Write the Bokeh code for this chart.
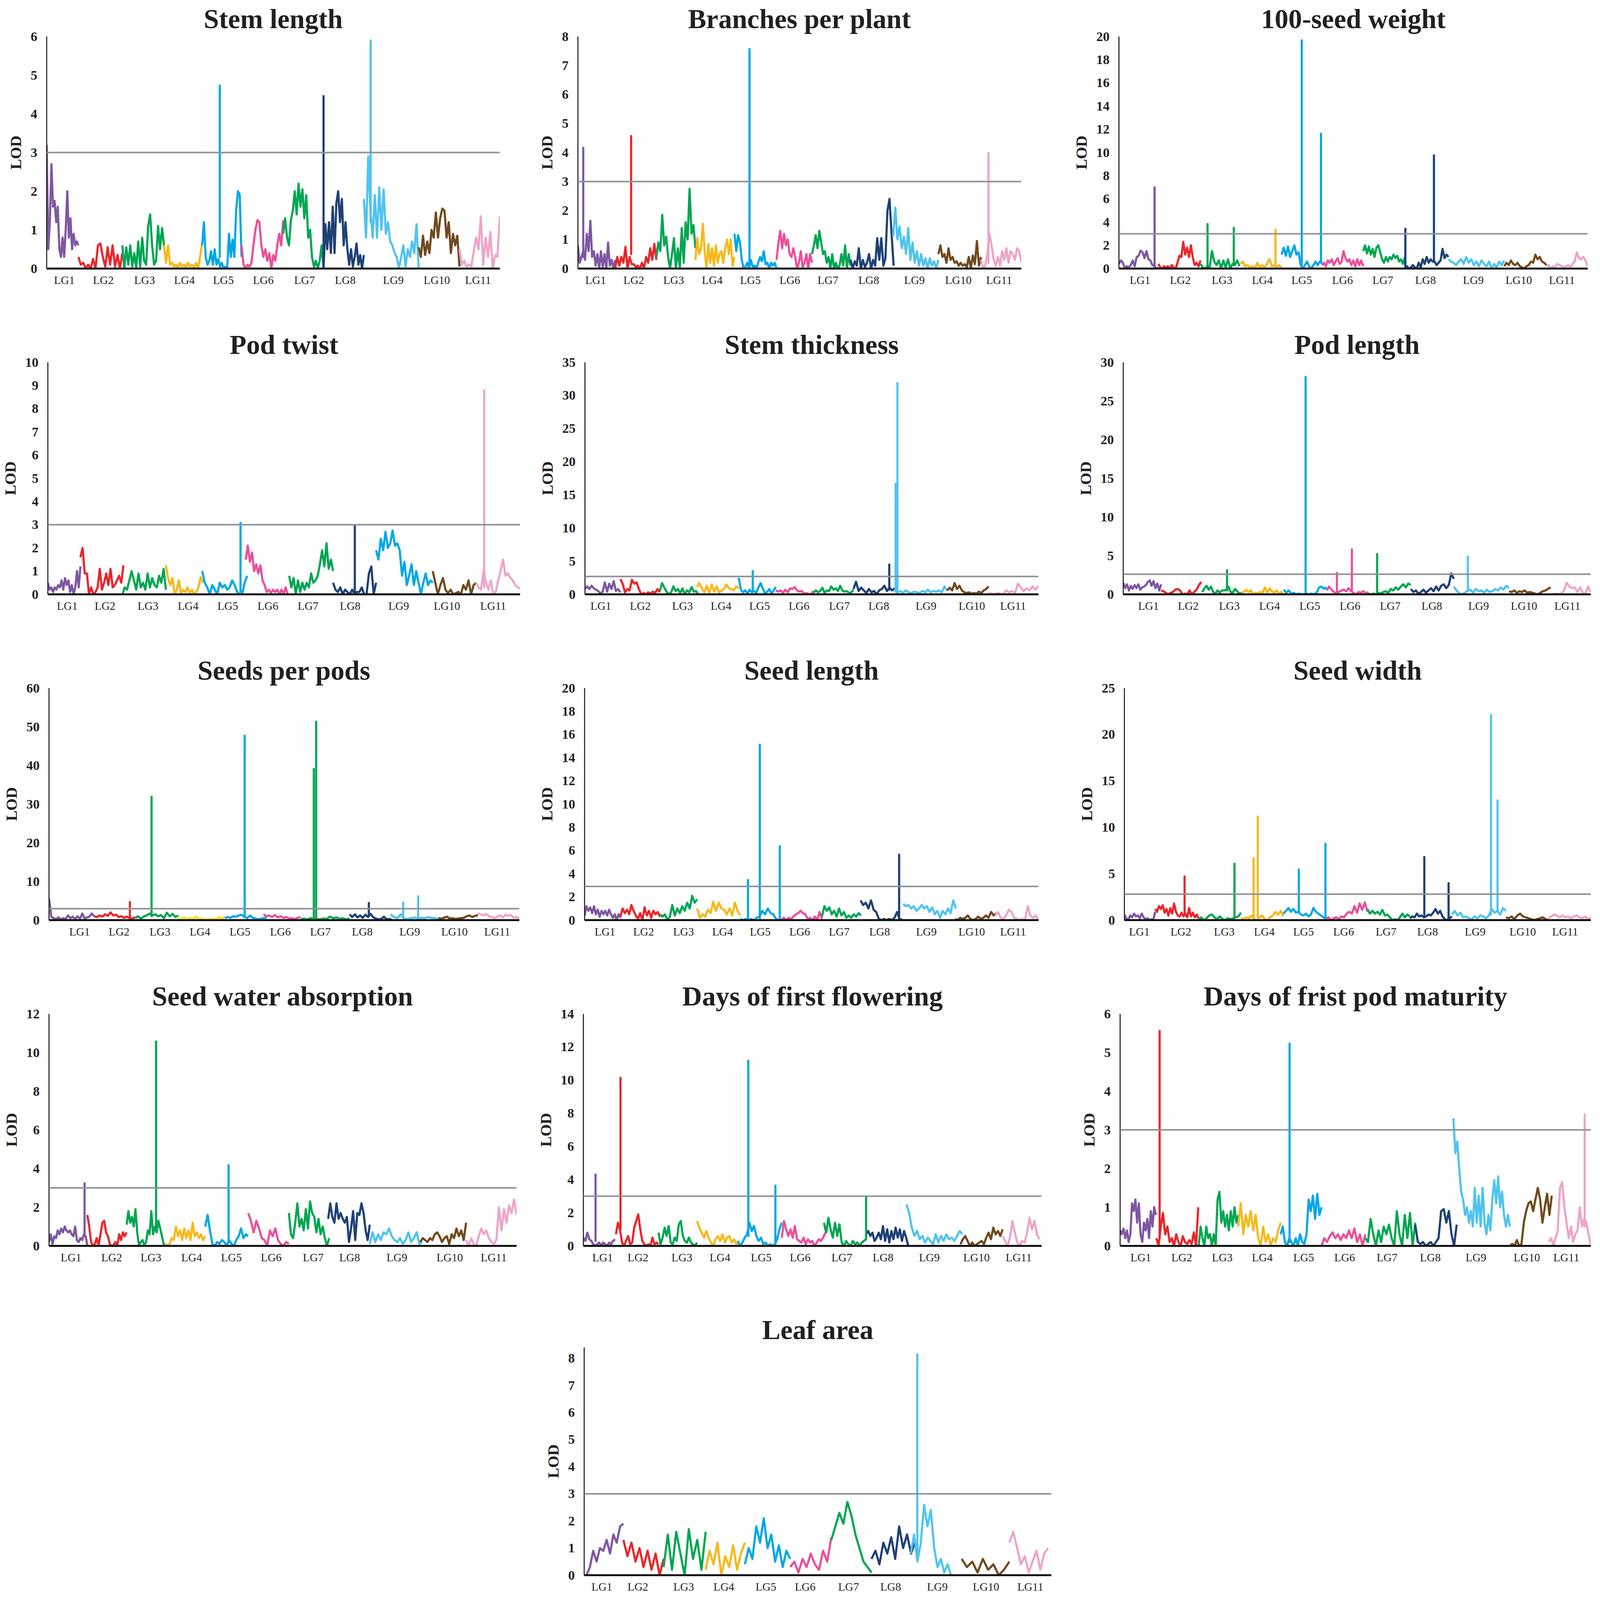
import numpy as np
from bokeh.plotting import figure
from bokeh.layouts import row, column
from bokeh.models import Span, FixedTicker, Range1d, Spacer
from bokeh.embed import file_html
from bokeh.resources import INLINE

LG_NAMES = ["LG1", "LG2", "LG3", "LG4", "LG5", "LG6", "LG7", "LG8", "LG9", "LG10", "LG11"]
LG_COLORS = ["#7E57A2", "#E9262B", "#00A651", "#F6B91A", "#00A7E7", "#EA4F9B",
             "#00A651", "#1E4176", "#4FC4EE", "#6F4A1E", "#EDA5C9"]

# ---------------- Stem length ----------------
sl_spans = [(0, 7.0), (7.0, 16.7), (16.7, 25.9), (25.9, 34.3), (34.3, 43.0), (43.0, 52.2),
            (52.2, 61.1), (61.1, 70.0), (70.0, 82.1), (82.1, 91.1), (91.1, 100)]
sl_vals = [
    [3.2, 0.5, 1.2, 2.7, 1.6, 1.75, 1.2, 1.6, 0.5, 0.3, 0.8, 0.3, 1.0, 2.0, 0.8, 1.3, 0.5, 0.9, 0.6, 0.7, 0.6],
    [0.3, 0.1, 0.15, 0.0, 0.1, 0.0, 0.25, 0.0, 0.6, 0.65, 0.3, 0.05, 0.55, 0.1, 0.6, 0.05, 0.35, 0.0, 0.4],
    [0.6, 0.0, 0.55, 0.1, 0.6, 0.05, 0.4, 0.0, 0.7, 0.05, 0.8, 0.2, 0.1, 1.1, 1.4, 0.6, 0.1, 0.2, 1.1, 0.5, 1.05, 0.6],
    [0.6, 0.15, 0.6, 0.1, 0.15, 0.05, 0.1, 0.0, 0.15, 0.05, 0.1, 0.0, 0.15, 0.05, 0.1, 0.0, 0.15, 0.0, 0.3, 0.65],
    [0.6, 1.2, 0.3, 0.1, 0.2, 0.45, 0.1, 0.5, 0.1, 0.25, 0.05, 0.15, 0.0, 0.05, 0.0, 0.9, 0.3, 0.75, 0.3, 1.5, 2.0, 1.9, 0.3],
    [0.6, 0.1, 0.0, 0.1, 0.05, 0.15, 0.6, 1.0, 1.25, 1.2, 0.6, 0.3, 0.5, 0.2, 0.4, 0.0, 0.35, 0.2, 0.6, 0.9, 0.6, 1.25],
    [0.9, 1.3, 0.8, 0.6, 1.25, 1.5, 2.0, 1.4, 2.2, 1.6, 2.05, 1.3, 1.9, 0.8, 1.0, 0.3, 0.05, 0.2, 0.0, 0.2, 0.6, 0.0],
    [0.0, 1.15, 0.5, 1.2, 0.4, 1.6, 0.4, 1.7, 2.0, 1.2, 1.8, 0.6, 1.2, 0.5, 0.1, 0.5, 0.05, 0.3, 0.65, 0.1, 0.35, 0.0, 0.35],
    [1.8, 0.8, 2.9, 1.5, 0.8, 1.9, 0.8, 2.1, 1.0, 2.05, 0.9, 1.2, 0.7, 0.6, 0.4, 0.3, 0.0, 0.3, 0.6, 0.05, 0.5, 0.3, 0.7, 0.4, 1.15, 0.0],
    [0.55, 0.3, 0.85, 0.35, 0.7, 0.4, 1.0, 0.8, 1.45, 0.8, 1.3, 1.55, 1.5, 0.8, 1.2, 0.4, 0.9, 0.6, 0.85, 0.05],
    [0.5, 0.1, 0.2, 0.05, 0.1, 0.05, 0.45, 0.8, 0.5, 1.35, 0.1, 0.8, 0.3, 0.95, 0.0, 0.35, 0.3, 1.35],
]
sl_spikes = [(4, 38.2, 0.3, 4.73), (7, 61.1, 0.0, 4.46), (8, 71.5, 1.2, 5.9)]
sl_lgpos = [3.9, 12.5, 21.6, 30.4, 39.0, 47.8, 56.9, 65.9, 76.5, 86.1, 95.2]

# ---------------- Branches per plant ----------------
bp_spans = [(0, 8.4), (8.4, 17.7), (17.7, 26.5), (26.5, 35.3), (35.3, 44.8), (44.8, 52.8),
            (52.8, 61.5), (61.5, 71.2), (71.1, 81.3), (81.3, 90.9), (90.9, 100)]
bp_vals = [
    [0.8, 0.2, 0.4, 0.6, 0.3, 1.2, 0.6, 1.65, 0.4, 0.6, 0.1, 0.5, 0.0, 0.6, 0.05, 0.5, 0.0, 0.9, 0.1, 0.3, 0.0, 0.3],
    [0.0, 0.4, 0.1, 0.4, 0.2, 0.75, 0.0, 0.4, 0.15, 0.15, 0.05, 0.1, 0.0, 0.2, 0.0, 0.4, 0.2, 0.7, 0.3, 0.85, 0.3],
    [0.4, 0.9, 0.6, 1.85, 0.8, 1.1, 0.4, 0.0, 0.5, 1.05, 0.0, 0.7, 0.0, 1.4, 0.2, 1.6, 1.0, 2.75, 1.2, 1.5, 0.7],
    [0.3, 1.05, 0.5, 0.7, 1.55, 0.6, 0.0, 0.85, 0.2, 0.7, 0.1, 0.8, 0.2, 0.5, 0.6, 0.2, 0.7, 1.0, 0.5, 1.0, 0.1, 0.4],
    [1.2, 0.6, 1.15, 0.9, 0.3, 0.0, 0.05, 0.2, 0.0, 0.3, 0.05, 0.1, 0.0, 0.2, 0.4, 0.25, 0.6, 0.15, 0.2, 0.0, 0.2, 0.1, 0.2, 0.0],
    [0.3, 0.9, 1.3, 0.7, 1.2, 0.8, 1.0, 0.5, 0.4, 0.7, 0.4, 0.0, 0.2, 0.6, 0.05, 0.2, 0.5, 0.0, 0.5, 0.2],
    [0.5, 0.8, 1.15, 0.7, 1.3, 0.9, 0.5, 0.6, 0.2, 0.4, 0.0, 0.5, 0.0, 0.2, 0.0, 0.1, 0.5, 0.1, 0.8, 0.0, 0.5, 0.1],
    [0.3, 0.0, 0.25, 0.1, 0.7, 0.0, 0.3, 0.05, 0.2, 0.5, 0.0, 0.3, 0.1, 1.05, 0.3, 1.05, 0.1, 0.35, 2.0, 2.4, 1.2, 0.1],
    [1.1, 2.1, 1.0, 1.45, 0.7, 1.1, 0.5, 1.4, 0.3, 0.9, 0.2, 0.6, 0.1, 0.5, 0.1, 0.35, 0.0, 0.35, 0.1, 0.25, 0.0, 0.3],
    [0.5, 0.8, 0.4, 0.5, 0.2, 0.7, 0.3, 0.4, 0.2, 0.25, 0.1, 0.2, 0.1, 0.15, 0.05, 0.4, 0.0, 0.45, 0.15, 0.95, 0.1, 0.4],
    [0.3, 0.0, 0.1, 0.5, 1.2, 0.8, 0.3, 0.1, 0.4, 0.1, 0.6, 0.3, 0.7, 0.2, 0.6, 0.5, 0.3, 0.7, 0.6, 0.2],
]
bp_spikes = [(0, 1.2, 0.4, 4.16), (1, 12.0, 0.5, 4.57), (4, 38.7, 0.1, 7.57), (10, 92.6, 0.2, 3.98)]
bp_lgpos = [4.0, 12.6, 21.6, 30.3, 38.9, 47.8, 56.4, 65.6, 75.9, 85.8, 95.0]

# ---------------- 100-seed weight ----------------
sw_spans = [(0, 8.4), (8.4, 17.4), (17.4, 25.7), (25.9, 34.7), (34.7, 43.3), (43.3, 52.1),
            (52.1, 61.0), (61.0, 70.3), (70.3, 82.2), (82.2, 91.2), (91.2, 100)]
sw_vals = [
    [0.4, 0.7, 0.5, 0.0, 0.2, 0.1, 0.3, 0.7, 0.2, 1.0, 1.1, 1.55, 1.4, 0.9, 1.5, 0.8, 0.7, 0.3, 0.2, 0.0, 0.1],
    [0.4, 0.1, 0.0, 0.2, 0.1, 0.2, 0.0, 0.3, 0.1, 0.0, 0.5, 1.1, 1.0, 2.3, 1.2, 1.8, 1.0, 2.0, 0.9, 0.3, 0.5, 0.2, 0.7],
    [0.4, 0.1, 0.0, 0.2, 0.1, 1.5, 0.6, 0.3, 0.7, 0.0, 0.7, 0.1, 0.8, 0.0, 0.4, 0.3, 0.7, 0.2],
    [0.4, 0.6, 0.2, 0.3, 0.1, 0.2, 0.0, 0.5, 0.1, 0.3, 0.1, 0.4, 0.8, 0.2, 0.3, 0.1, 0.3, 0.0],
    [1.2, 1.8, 1.1, 1.9, 1.0, 1.5, 2.0, 1.2, 1.4, 0.3, 0.0, 0.3, 0.6, 0.2, 0.0, 0.3, 0.6, 0.3, 0.6, 0.5],
    [0.3, 0.5, 0.2, 0.7, 0.5, 0.8, 0.3, 0.6, 0.9, 0.4, 0.6, 1.5, 0.9, 0.6, 0.8, 0.3, 0.7, 0.2, 0.8, 0.3, 0.7, 0.2],
    [1.5, 2.0, 1.3, 1.9, 1.2, 1.7, 1.0, 1.8, 2.0, 1.4, 0.8, 0.5, 1.0, 0.6, 1.0, 0.8, 1.2, 0.9, 1.1, 0.6, 0.8, 0.4, 1.0],
    [0.0, 0.2, 0.0, 0.1, 0.3, 0.1, 0.0, 0.5, 0.1, 0.8, 0.4, 1.0, 0.5, 0.8, 0.6, 0.6, 0.3, 0.5, 0.7, 1.7, 0.9, 1.2, 1.0],
    [0.8, 0.6, 0.5, 0.3, 0.6, 0.8, 0.4, 1.0, 0.5, 0.8, 0.3, 0.6, 0.2, 0.7, 0.4, 0.2, 0.6, 0.0, 0.4, 0.1, 0.6, 0.3, 0.7],
    [0.2, 0.5, 0.3, 0.7, 0.4, 0.3, 0.5, 0.2, 0.1, 0.0, 0.2, 0.3, 0.6, 0.5, 1.2, 0.8, 1.0, 0.6, 0.5, 0.3],
    [0.2, 0.3, 0.0, 0.2, 0.1, 0.4, 0.3, 0.2, 0.1, 0.2, 0.3, 0.1, 0.4, 0.6, 1.4, 0.9, 0.8, 1.0, 0.7, 0.2],
]
sw_spikes = [(0, 7.6, 0.2, 6.99), (2, 18.9, 0.1, 3.84), (2, 24.5, 0.3, 3.51), (3, 33.4, 0.2, 3.35),
             (4, 39.0, 0.3, 19.67), (4, 43.1, 0.5, 11.62), (7, 61.1, 0.0, 3.43), (7, 67.2, 0.6, 9.76)]
sw_lgpos = [4.5, 13.1, 22.0, 30.6, 39.0, 47.7, 56.3, 65.4, 75.6, 85.3, 94.5]

# ---------------- Pod twist ----------------
pt_spans = [(0, 6.9), (6.9, 16.0), (15.8, 25.0), (25.0, 32.8), (32.7, 42.2), (41.9, 50.8),
            (51.1, 60.4), (60.4, 69.5), (69.5, 81.5), (81.5, 90.7), (90.7, 100)]
pt_vals = [
    [0.5, 0.2, 0.3, 0.1, 0.3, 0.2, 0.4, 0.3, 0.6, 0.2, 0.7, 0.4, 0.6, 0.1, 0.4, 0.0, 0.3, 1.0, 0.3, 1.2],
    [1.6, 2.0, 0.9, 0.9, 0.0, 0.3, 0.0, 0.1, 0.3, 1.1, 0.2, 0.5, 0.9, 0.4, 1.1, 0.3, 0.4, 0.6, 0.8, 0.5, 1.25],
    [0.0, 0.3, 0.2, 0.6, 1.0, 0.6, 0.2, 0.9, 0.3, 0.5, 0.2, 0.9, 0.3, 0.7, 0.4, 0.3, 0.8, 0.5, 1.1, 0.2],
    [1.25, 0.7, 0.4, 0.7, 0.0, 0.2, 0.6, 0.0, 0.2, 0.1, 0.3, 0.05, 0.2, 0.0, 0.1, 0.3, 0.75, 0.5],
    [1.0, 0.5, 0.3, 0.0, 0.4, 0.2, 0.0, 0.5, 0.3, 0.4, 0.2, 0.3, 0.6, 0.4, 0.1, 0.0, 0.0, 0.5, 0.8],
    [1.5, 2.1, 1.4, 1.8, 1.0, 1.3, 0.9, 1.25, 0.6, 0.4, 0.1, 0.2, 0.05, 0.2, 0.1, 0.2, 0.0, 0.2, 0.0, 0.3, 0.0],
    [0.8, 0.3, 0.7, 0.0, 0.6, 0.1, 0.5, 0.2, 0.5, 0.3, 0.9, 0.5, 0.6, 0.8, 1.3, 1.9, 1.2, 2.2, 1.1, 1.5, 1.0],
    [0.5, 0.2, 0.1, 0.3, 0.0, 0.2, 0.1, 0.0, 0.2, 0.0, 0.1, 0.1, 0.3, 0.0, 0.0, 0.9, 1.2, 0.0, 0.5],
    [1.9, 1.5, 2.4, 1.9, 2.7, 2.0, 2.2, 2.75, 2.1, 2.2, 1.9, 0.8, 1.4, 0.4, 0.8, 1.3, 0.4, 1.0, 0.5, 0.0, 0.5, 0.9, 0.4, 0.6, 0.5],
    [1.0, 0.5, 0.0, 0.4, 0.7, 0.2, 0.05, 0.2, 0.0, 0.05, 0.1, 0.0, 0.4, 0.2, 0.6, 0.0, 0.4, 0.5],
    [0.5, 0.3, 0.2, 1.0, 0.5, 0.2, 0.6, 0.0, 0.1, 0.6, 1.0, 1.5, 0.8, 0.9, 0.7, 0.6, 0.4, 0.3, 0.25],
]
pt_spikes = [(4, 40.8, 0.1, 3.08), (7, 65.0, 0.1, 2.94), (10, 92.4, 0.3, 8.79)]
pt_lgpos = [4.1, 12.1, 21.2, 29.7, 38.1, 46.6, 55.1, 64.0, 74.3, 84.5, 94.3]

# ---------------- Stem thickness ----------------
st_spans = [(0, 7.8), (7.8, 16.5), (16.5, 25.0), (24.7, 33.9), (33.9, 42.1), (42.1, 50.4),
            (50.4, 59.2), (59.2, 68.3), (68.3, 79.9), (79.9, 89.0), (89.0, 100)]
st_vals = [
    [0.8, 1.2, 0.8, 1.3, 0.9, 0.7, 0.5, 0.1, 0.4, 1.8, 0.4, 1.6, 0.8, 2.0, 0.5, 0.8, 0.3],
    [2.3, 1.6, 0.3, 0.8, 0.6, 2.2, 1.6, 1.8, 0.8, 0.0, 0.2, 0.0, 0.3, 0.1, 0.4, 0.2, 0.8, 0.3],
    [0.5, 1.7, 1.0, 0.4, 0.0, 0.3, 1.2, 0.5, 0.8, 0.2, 0.9, 0.0, 0.6, 0.3, 1.1, 0.4, 0.5, 0.0],
    [1.1, 1.7, 0.9, 0.3, 1.3, 0.2, 1.5, 0.4, 1.2, 0.2, 0.6, 0.8, 1.5, 0.9, 0.8, 0.6, 1.2, 0.9],
    [2.5, 0.7, 0.3, 0.6, 0.1, 0.7, 0.3, 0.5, 0.2, 1.0, 1.7, 0.9, 0.1, 0.4, 0.8, 0.1, 0.6, 1.1],
    [0.6, 0.4, 0.6, 0.2, 0.7, 0.3, 0.9, 0.8, 1.1, 0.6, 0.4, 0.5, 0.1, 0.2, 0.0, 0.1, 0.5],
    [0.2, 0.6, 0.3, 0.5, 1.0, 0.2, 0.6, 0.5, 1.2, 0.7, 0.9, 0.5, 1.3, 0.6, 0.4, 0.5, 0.2, 0.3, 0.7],
    [0.8, 1.9, 0.5, 1.0, 0.6, 0.2, 0.8, 0.3, 0.5, 0.0, 0.6, 0.8, 1.3, 0.5, 1.0, 0.6, 0.9],
    [0.5, 0.2, 0.5, 0.2, 0.6, 0.3, 0.2, 0.4, 0.3, 0.2, 0.5, 0.3, 0.7, 0.3, 0.5, 0.4, 0.6, 0.3, 1.2, 0.5],
    [0.6, 1.0, 0.6, 1.7, 0.8, 1.3, 0.6, 0.3, 0.2, 0.3, 0.1, 0.2, 0.1, 0.4, 0.2, 0.6, 0.8, 1.2],
    [0.2, 0.1, 0.0, 0.2, 0.1, 0.0, 0.6, 0.3, 0.5, 0.2, 1.6, 1.0, 0.5, 0.9, 0.6, 1.2, 0.7, 1.3],
]
st_spikes = [(4, 37.0, 0.4, 3.51), (7, 67.1, 0.7, 4.49), (8, 68.5, 0.5, 16.66), (8, 68.9, 0.5, 31.86)]
st_lgpos = [3.5, 12.2, 21.5, 30.0, 38.5, 47.2, 56.1, 64.8, 75.2, 85.3, 94.4]

# ---------------- Pod length ----------------
pl_spans = [(0, 8.1), (8.1, 16.7), (16.9, 25.3), (25.3, 34.3), (34.3, 43.5), (43.5, 52.4),
            (52.4, 61.5), (61.5, 70.7), (70.7, 82.5), (82.5, 91.4), (91.4, 100)]
pl_vals = [
    [1.5, 0.8, 1.3, 0.5, 1.1, 0.7, 1.2, 0.8, 1.3, 0.6, 0.9, 1.0, 1.2, 1.6, 1.8, 1.1, 1.7, 0.8, 1.4, 0.5, 1.3],
    [0.5, 0.4, 0.2, 0.0, 0.2, 0.3, 0.6, 0.7, 0.5, 0.0, 0.1, 0.0, 0.5, 0.0, 0.3, 0.6, 1.2, 1.6],
    [0.3, 0.8, 1.1, 0.6, 1.0, 0.3, 0.1, 0.5, 0.2, 0.5, 0.5, 0.6, 1.0, 0.3, 0.2, 0.7, 0.4, 0.1, 0.2],
    [0.2, 0.3, 0.6, 0.3, 0.5, 0.0, 0.2, 0.1, 0.3, 0.2, 0.9, 0.2, 0.8, 0.4, 0.2, 0.5, 0.1, 0.3, 0.0],
    [0.6, 0.2, 0.5, 0.1, 0.2, 0.0, 0.1, 0.0, 0.0, 0.1, 0.0, 0.1, 0.0, 0.2, 0.9, 1.0, 0.7, 0.9],
    [0.5, 1.0, 0.6, 0.3, 0.1, 0.3, 0.5, 0.6, 0.4, 0.8, 0.4, 0.2, 0.0, 0.3, 0.2, 0.4, 0.1, 0.3],
    [0.1, 0.0, 0.1, 0.0, 0.2, 0.1, 0.3, 0.4, 0.2, 0.7, 0.5, 0.9, 0.6, 1.0, 1.3, 0.9, 1.4, 1.2],
    [0.7, 0.3, 0.5, 0.1, 0.3, 0.6, 0.2, 0.5, 0.8, 0.4, 1.0, 0.5, 1.1, 1.3, 0.8, 1.2, 2.7, 2.0],
    [1.0, 0.5, 0.1, 0.0, 0.2, 0.5, 0.6, 0.2, 0.7, 0.4, 0.5, 0.2, 0.6, 0.3, 0.4, 0.7, 0.5, 0.9, 0.6, 1.1, 0.8],
    [0.4, 0.3, 0.5, 0.2, 0.4, 0.3, 0.5, 0.2, 0.3, 0.2, 0.1, 0.0, 0.2, 0.4, 0.5, 0.7, 0.9],
    [0.1, 0.0, 0.1, 0.0, 0.1, 0.5, 1.5, 1.0, 0.8, 0.9, 0.3, 0.9, 0.2, 0.1, 1.0, 0.3],
]
pl_spikes = [(2, 22.2, 0.5, 3.10), (4, 39.0, 0.0, 28.1), (5, 45.7, 0.3, 2.78), (5, 48.9, 0.6, 5.81),
             (6, 54.3, 0.1, 5.2), (8, 73.7, 0.4, 4.88)]
pl_lgpos = [5.4, 13.9, 22.7, 31.3, 39.9, 48.5, 57.1, 66.0, 76.0, 85.7, 95.0]

# ---------------- Seeds per pods ----------------
sp_spans = [(0, 9.6), (9.6, 18.3), (18.3, 27.5), (27.5, 37.4), (37.4, 46.3), (45.6, 53.5),
            (53.5, 63.9), (63.9, 72.9), (72.6, 82.8), (82.8, 91.2), (91.2, 100)]
sp_vals = [
    [5.65, 0.8, 0.5, 0.3, 0.7, 0.2, 0.5, 0.3, 1.2, 0.5, 0.9, 0.2, 1.0, 0.3, 1.7, 0.4, 0.7, 0.9, 1.7, 1.0],
    [1.0, 0.8, 1.2, 0.9, 1.5, 1.1, 2.0, 1.2, 1.4, 0.8, 1.0, 0.6, 0.9, 0.5, 0.4, 0.8],
    [0.5, 1.0, 0.4, 0.9, 1.2, 1.7, 1.2, 1.5, 1.0, 1.3, 0.5, 1.9, 1.0, 1.6, 0.8, 1.2],
    [0.5, 0.3, 0.7, 0.2, 0.5, 0.1, 0.9, 0.3, 0.4, 0.1, 0.3, 0.2, 0.4, 0.1, 0.8, 0.3, 0.9],
    [0.5, 0.8, 0.6, 1.0, 0.9, 1.2, 1.4, 0.8, 0.5, 1.2, 0.6, 0.4, 0.2, 0.4, 0.5, 0.7],
    [1.5, 1.0, 1.2, 0.8, 1.3, 0.7, 1.0, 0.6, 0.8, 0.4, 0.5, 0.3, 0.6, 0.8],
    [0.2, 0.4, 0.2, 0.5, 0.3, 0.3, 0.2, 0.4, 0.3, 0.9, 0.5, 0.7, 0.3, 0.5, 0.2, 0.4],
    [1.5, 0.8, 1.5, 0.7, 1.2, 0.6, 1.4, 0.8, 1.6, 0.7, 0.4, 0.2, 0.3, 0.9, 0.2, 0.3, 0.1],
    [1.5, 0.8, 0.5, 1.5, 0.4, 0.3, 0.5, 0.7, 0.4, 0.6, 0.5, 0.8, 0.6, 0.5, 0.3],
    [0.5, 0.4, 0.6, 0.9, 0.4, 0.5, 0.3, 0.4, 0.5, 0.6, 1.0, 1.2, 0.8, 1.1, 1.3],
    [1.8, 1.5, 1.2, 1.6, 1.0, 0.8, 0.5, 0.9, 1.2, 0.7, 1.4, 1.1, 1.3, 0.6, 0.8, 0.4],
]
sp_spikes = [(1, 17.2, 0.5, 4.67), (2, 21.8, 1.0, 31.9), (4, 41.6, 1.2, 47.7), (6, 56.3, 0.3, 39.1),
             (6, 56.8, 0.3, 51.3), (7, 68.0, 1.0, 4.43), (8, 75.3, 0.5, 4.52), (8, 78.5, 0.5, 6.15)]
sp_lgpos = [6.5, 14.9, 23.6, 32.1, 40.6, 49.2, 57.7, 66.6, 76.7, 86.2, 95.3]

# ---------------- Seed length ----------------
sn_spans = [(0, 7.9), (7.9, 16.6), (16.6, 24.8), (24.8, 34.3), (34.3, 43.4), (43.4, 52.3),
            (52.3, 60.9), (60.8, 70.0), (70.2, 81.8), (81.6, 90.7), (90.5, 100)]
sn_vals = [
    [0.4, 1.2, 0.8, 1.1, 0.6, 1.2, 0.5, 0.9, 0.3, 0.8, 0.5, 0.8, 0.4, 0.9, 0.5, 0.2, 0.5, 0.0, 0.5, 0.2],
    [0.3, 1.0, 0.6, 0.9, 0.5, 1.3, 0.8, 0.4, 0.1, 0.6, 0.0, 1.1, 0.4, 0.8, 0.2, 0.8, 0.5, 0.7, 0.3],
    [0.5, 0.3, 0.5, 0.0, 0.3, 1.3, 0.4, 1.0, 0.6, 1.2, 0.8, 1.5, 1.0, 2.1, 1.5, 1.8],
    [1.0, 0.2, 0.5, 0.3, 0.9, 0.6, 1.6, 0.8, 1.5, 1.0, 0.9, 0.5, 1.0, 0.4, 1.5, 0.8, 0.4],
    [0.1, 0.0, 0.1, 0.0, 0.1, 0.0, 0.2, 0.3, 0.8, 0.5, 1.0, 0.6, 0.5, 0.1, 0.0, 0.0],
    [0.1, 0.2, 0.0, 0.2, 0.1, 0.3, 0.5, 0.6, 0.8, 0.6, 0.5, 0.1, 0.2, 0.0, 0.3, 0.0, 0.7, 0.1],
    [0.3, 1.2, 0.8, 1.1, 0.5, 0.8, 0.3, 1.0, 0.4, 0.7, 0.2, 0.4, 0.2, 0.5, 0.3, 0.6, 0.4],
    [1.7, 1.3, 1.5, 1.0, 1.7, 0.9, 0.7, 0.1, 0.0, 0.1, 0.0, 0.1, 0.0, 0.2, 0.7, 0.0, 0.1],
    [1.4, 1.2, 1.3, 1.0, 1.2, 0.8, 1.0, 1.3, 1.0, 1.2, 0.7, 1.1, 0.5, 0.8, 0.2, 0.8, 0.5, 1.0, 0.6, 1.7, 1.0],
    [0.1, 0.0, 0.2, 0.1, 0.2, 0.4, 0.1, 0.0, 0.1, 0.3, 0.1, 0.2, 0.4, 0.2, 0.7, 0.4, 0.6],
    [0.4, 0.7, 0.2, 0.1, 0.4, 0.9, 0.7, 0.2, 0.1, 0.0, 0.1, 0.0, 1.2, 0.4, 0.2, 0.4, 0.0],
]
sn_spikes = [(4, 36.0, 0.1, 3.45), (4, 38.6, 0.1, 15.12), (4, 43.0, 0.0, 6.37), (7, 69.3, 0.1, 5.64)]
sn_lgpos = [4.5, 13.0, 21.8, 30.4, 38.7, 47.4, 56.1, 65.0, 75.3, 85.3, 94.4]

# ---------------- Seed width ----------------
sd_spans = [(0, 6.6), (6.6, 15.9), (15.9, 25.0), (25.0, 34.1), (34.1, 43.2), (43.2, 52.1),
            (52.1, 61.2), (61.2, 70.2), (70.2, 81.8), (81.8, 90.9), (90.9, 100)]
sd_vals = [
    [0.6, 0.2, 0.0, 0.5, 0.3, 0.7, 0.4, 0.5, 0.2, 0.7, 0.3, 0.1, 0.2, 0.0, 0.1, 0.0, 0.9],
    [1.2, 0.9, 1.5, 1.2, 1.6, 0.8, 1.2, 0.5, 1.3, 0.7, 1.8, 0.9, 0.5, 0.4, 0.8, 0.4, 0.7, 0.3, 1.3, 0.4, 0.8, 0.3, 0.6, 0.2],
    [0.0, 0.3, 0.0, 0.2, 0.5, 0.6, 0.3, 0.1, 0.4, 0.1, 0.0, 0.2, 0.1, 0.2, 0.3, 0.4, 0.8],
    [0.2, 0.1, 0.3, 0.2, 0.5, 0.1, 0.0, 0.3, 0.5, 0.1, 0.0, 0.3, 0.5, 0.9, 0.6, 1.0, 0.4],
    [0.7, 1.0, 1.3, 0.9, 1.2, 0.8, 0.9, 0.6, 0.5, 0.7, 0.4, 0.6, 1.3, 0.9, 0.7, 0.5, 0.3, 0.1],
    [0.2, 0.3, 0.0, 0.2, 0.3, 0.1, 0.4, 0.3, 0.7, 0.9, 0.7, 1.5, 0.8, 1.8, 1.1, 1.9, 0.9],
    [1.2, 0.7, 1.0, 0.7, 0.9, 0.6, 1.1, 0.5, 0.6, 0.3, 0.0, 0.1, 0.0, 0.3, 0.7, 0.3, 0.6, 0.4],
    [0.2, 0.4, 0.3, 0.7, 0.4, 0.5, 0.3, 0.4, 0.6, 0.5, 0.8, 1.2, 0.7, 1.0, 0.4, 0.1, 0.0, 0.2, 0.4],
    [0.6, 1.0, 0.5, 0.8, 0.3, 0.4, 0.2, 0.1, 0.4, 0.2, 0.5, 0.4, 0.2, 0.5, 1.2, 0.8, 1.0, 0.6, 1.3, 1.0],
    [0.3, 0.2, 0.4, 0.1, 0.5, 0.7, 0.4, 0.3, 0.2, 0.1, 0.0, 0.1, 0.2, 0.3, 0.1, 0.0],
    [0.2, 0.4, 0.6, 0.5, 0.3, 0.5, 0.3, 0.4, 0.2, 0.4, 0.5, 0.3, 0.2, 0.4, 0.1, 0.3],
]
sd_spikes = [(1, 12.9, 0.5, 4.69), (2, 23.6, 0.2, 6.08), (3, 27.7, 0.2, 6.67), (3, 28.6, 0.3, 11.16),
             (4, 37.4, 0.9, 5.45), (4, 43.1, 0.3, 8.22), (7, 64.3, 0.4, 6.8), (7, 69.5, 0.1, 3.98),
             (8, 78.6, 0.6, 22.1), (8, 80.0, 0.9, 12.9)]
sd_lgpos = [3.2, 12.1, 21.4, 30.0, 38.4, 47.0, 56.1, 65.0, 75.2, 85.4, 94.5]

# ---------------- Seed water absorption ----------------
wa_spans = [(0, 8.2), (8.2, 16.6), (16.6, 24.9), (24.9, 33.4), (33.4, 42.6), (42.6, 51.3),
            (51.3, 59.9), (59.7, 68.6), (68.6, 79.8), (79.4, 89.2), (89.2, 100)]
wa_vals = [
    [0.2, 0.6, 0.1, 0.5, 0.4, 0.8, 0.6, 0.9, 0.7, 1.0, 0.8, 0.7, 0.8, 0.6, 0.5, 1.0, 0.3, 0.2, 0.4, 0.3, 0.6, 0.5, 0.0],
    [1.6, 1.0, 0.2, 0.0, 0.1, 0.4, 0.0, 0.6, 1.2, 1.3, 0.7, 0.5, 0.1, 0.0, 0.05, 0.2, 0.0, 0.6, 0.3, 0.7, 0.5, 0.7],
    [1.1, 1.8, 1.2, 1.5, 1.0, 1.9, 0.7, 0.0, 0.2, 0.3, 0.0, 0.2, 0.8, 0.6, 1.8, 0.6, 1.0, 0.7, 1.3, 0.9, 0.5, 0.1, 0.0],
    [0.1, 0.0, 0.1, 0.4, 0.3, 1.0, 0.5, 0.8, 0.3, 0.9, 0.4, 0.8, 0.3, 1.2, 0.5, 0.7, 0.4, 0.6, 0.3, 0.5],
    [1.0, 1.6, 0.8, 0.1, 0.0, 0.2, 0.1, 0.3, 0.2, 0.0, 0.3, 0.1, 0.0, 0.3, 0.5, 0.9, 0.4, 0.6, 0.5],
    [1.7, 1.3, 0.7, 1.3, 0.9, 0.4, 0.3, 0.0, 0.8, 0.5, 0.9, 0.3, 0.1, 0.0, 0.2, 0.1],
    [1.7, 0.6, 0.4, 1.2, 2.2, 1.0, 1.4, 0.8, 1.9, 0.9, 2.3, 1.7, 1.5, 0.7, 1.4, 0.6, 1.0, 0.4, 0.0, 0.4],
    [1.4, 2.2, 1.5, 1.2, 2.2, 1.4, 1.7, 1.4, 1.2, 1.5, 0.2, 0.9, 1.8, 0.3, 1.7, 1.6, 2.2, 1.7, 0.8, 0.3, 1.1],
    [0.1, 0.7, 0.2, 0.6, 0.3, 0.7, 0.6, 0.9, 0.5, 0.3, 0.2, 0.4, 0.1, 0.3, 0.7, 0.2, 0.4, 0.7, 0.1, 0.2],
    [0.2, 0.4, 0.3, 0.2, 0.4, 0.3, 0.6, 0.7, 0.5, 0.2, 0.4, 0.5, 0.1, 0.6, 0.4, 0.9, 0.5, 0.8, 0.3, 1.2],
    [0.3, 0.0, 0.4, 0.1, 0.0, 0.5, 0.9, 0.6, 0.8, 0.4, 0.2, 0.1, 0.3, 2.0, 0.8, 1.9, 1.2, 2.1, 1.7, 2.4, 1.6],
]
wa_spikes = [(0, 7.6, 0.5, 3.23), (2, 22.9, 0.8, 10.57), (4, 38.4, 0.2, 4.17)]
wa_lgpos = [4.7, 13.4, 21.8, 30.5, 39.0, 47.5, 56.5, 64.3, 74.4, 85.7, 95.1]

# ---------------- Days of first flowering ----------------
ff_spans = [(0, 6.9), (7.1, 16.4), (16.4, 24.8), (24.8, 33.9), (33.7, 43.3), (43.3, 52.8),
            (52.5, 61.7), (61.7, 70.9), (70.5, 82.7), (82.3, 91.5), (91.5, 99.5)]
ff_vals = [
    [0.5, 0.3, 0.8, 0.4, 0.3, 0.1, 0.0, 0.1, 0.2, 0.0, 0.2, 0.1, 0.0, 0.2, 0.1, 0.3, 0.4],
    [0.7, 1.4, 1.0, 0.2, 0.0, 0.3, 0.6, 0.1, 0.2, 1.1, 1.5, 1.9, 1.0, 0.3, 0.1, 0.0, 0.1, 0.0, 0.5, 0.1, 0.2, 0.1],
    [0.8, 0.1, 0.5, 1.1, 0.6, 1.2, 0.2, 0.1, 0.5, 0.3, 1.3, 1.5, 0.6, 0.3, 0.2, 0.5, 0.2, 0.1, 0.0, 0.2],
    [1.5, 1.1, 0.8, 0.5, 0.9, 0.5, 0.2, 0.0, 0.4, 0.6, 0.3, 0.7, 0.2, 0.5, 0.6, 0.2, 0.4, 0.1, 0.3],
    [0.3, 0.0, 0.2, 0.5, 0.7, 1.4, 0.9, 1.2, 0.6, 0.3, 0.5, 0.1, 0.2, 0.0, 0.1, 0.0, 0.1, 0.4, 1.0, 1.4],
    [0.5, 1.5, 1.0, 0.6, 1.0, 0.5, 1.2, 0.4, 0.3, 0.2, 0.5, 0.1, 0.4, 0.2, 0.3, 0.0, 0.2, 0.4, 0.3, 0.5, 0.8],
    [1.4, 0.8, 1.7, 1.0, 0.5, 1.4, 0.6, 1.3, 0.2, 0.0, 0.3, 0.1, 0.0, 0.3, 0.1, 0.2, 0.0, 0.2, 0.3, 0.4],
    [0.7, 0.9, 0.6, 0.8, 0.3, 0.5, 0.8, 0.4, 1.2, 0.3, 1.0, 0.2, 0.9, 0.4, 1.1, 0.5, 1.0, 0.3, 0.9, 0.5, 0.0],
    [2.5, 2.0, 1.1, 0.6, 0.9, 0.4, 0.6, 0.2, 0.5, 0.3, 0.1, 0.7, 0.2, 0.6, 0.3, 0.7, 0.4, 0.5, 0.3, 0.6, 0.9, 0.7],
    [0.1, 0.4, 0.6, 0.3, 0.0, 0.2, 0.0, 0.1, 0.2, 0.3, 0.1, 0.5, 0.8, 0.4, 1.1, 0.7, 0.9, 0.6, 1.0],
    [0.6, 0.3, 0.0, 0.5, 1.5, 0.8, 0.2, 0.0, 0.3, 0.2, 0.8, 1.7, 1.0, 1.5, 0.7, 0.4],
]
ff_spikes = [(0, 2.65, 0.3, 4.30), (1, 8.1, 1.0, 10.14), (4, 36.0, 0.6, 11.17), (4, 41.9, 0.1, 3.64),
             (6, 61.7, 0.4, 2.95)]
ff_lgpos = [4.2, 11.9, 21.5, 29.8, 38.8, 47.3, 56.4, 65.4, 75.5, 85.8, 95.0]

# ---------------- Days of frist pod maturity ----------------
pm_spans = [(0, 7.6), (7.7, 16.6), (16.7, 25.1), (25.1, 34.1), (34.1, 42.8), (42.8, 52.1),
            (52.1, 62.7), (62.7, 71.5), (70.8, 82.8), (82.8, 91.7), (91.1, 100)]
pm_vals = [
    [0.4, 0.3, 0.45, 0.2, 0.4, 0.1, 0.3, 1.1, 0.9, 1.2, 0.6, 1.1, 0.3, 0.1, 0.6, 0.4, 0.7, 0.2, 0.9, 0.5, 1.0, 0.8],
    [0.2, 0.0, 0.5, 0.85, 0.3, 0.5, 0.1, 0.2, 0.0, 0.3, 0.1, 0.0, 0.25, 0.1, 0.05, 0.15, 0.05, 0.35, 0.0, 1.0],
    [0.0, 0.5, 0.2, 0.0, 0.5, 0.2, 0.3, 0.0, 0.3, 0.0, 1.2, 1.4, 0.6, 0.9, 0.5, 0.8, 0.4, 0.9, 0.5, 1.0, 0.6, 0.8],
    [0.5, 1.1, 0.3, 0.8, 0.5, 0.9, 0.4, 0.8, 0.2, 0.0, 0.5, 0.1, 0.3, 0.0, 0.2, 0.1, 0.4, 0.6],
    [0.3, 0.5, 0.1, 0.0, 0.2, 0.1, 0.0, 0.2, 0.0, 0.3, 0.1, 0.05, 0.3, 1.2, 0.9, 1.3, 0.7, 1.35, 0.8, 1.0],
    [0.0, 0.2, 0.1, 0.25, 0.35, 0.2, 0.3, 0.15, 0.3, 0.2, 0.4, 0.2, 0.45, 0.1, 0.3, 0.0, 0.3],
    [0.2, 0.1, 0.7, 0.3, 0.0, 0.4, 0.1, 0.5, 0.3, 0.55, 0.2, 0.0, 0.9, 0.3, 0.0, 0.8, 0.2, 0.85, 0.0, 0.6],
    [0.55, 0.1, 0.05, 0.1, 0.0, 0.05, 0.1, 0.0, 0.1, 0.2, 0.9, 0.95, 0.6, 0.9, 0.3, 0.0, 0.55],
    [3.3, 2.4, 2.7, 2.0, 1.4, 1.2, 0.8, 1.0, 0.6, 0.9, 0.5, 1.5, 0.6, 1.3, 0.5, 1.5, 0.6, 0.3, 0.8, 0.4,
     1.2, 1.7, 1.1, 1.8, 1.0, 1.4, 0.8, 0.5, 0.8, 0.5],
    [0.0, 0.05, 0.0, 0.15, 0.0, 0.05, 0.6, 0.9, 1.1, 1.15, 0.9, 1.2, 1.5, 1.2, 0.6, 1.0, 1.35, 0.8, 1.3],
    [0.1, 0.2, 0.0, 0.2, 0.4, 1.5, 1.65, 1.0, 0.6, 0.2, 0.5, 0.1, 0.3, 0.4, 1.0, 0.5, 0.7, 0.6, 0.3, 0.0],
]
pm_spikes = [(1, 8.4, 0.2, 5.56), (4, 36.0, 0.1, 5.23), (10, 98.7, 0.5, 3.4)]
pm_lgpos = [4.4, 13.1, 21.7, 30.2, 39.0, 47.7, 56.7, 65.9, 75.6, 86.4, 94.8]

# ---------------- Leaf area ----------------
la_spans = [(0.5, 8.4), (8.4, 17.0), (17.0, 26.0), (26.0, 34.4), (34.4, 44.1), (44.1, 52.9),
            (52.9, 61.5), (61.5, 70.8), (69.9, 78.5), (80.8, 91.0), (91.0, 99.3)]
la_vals = [
    [0.0, 0.3, 0.9, 0.5, 1.0, 0.9, 1.3, 0.8, 1.5, 1.2, 1.8, 1.9],
    [1.3, 0.7, 1.2, 0.5, 1.0, 0.3, 0.9, 0.2, 0.8, 0.0, 0.6],
    [0.3, 1.5, 0.2, 1.6, 0.8, 0.0, 1.7, 0.6, 1.3, 0.2, 1.6],
    [0.2, 0.9, 0.4, 1.2, 0.0, 0.7, 0.3, 1.1, 0.2, 0.8, 1.2],
    [0.4, 1.0, 0.6, 1.8, 1.2, 2.1, 1.0, 1.5, 0.5, 1.1, 0.3, 0.9, 0.6],
    [0.3, 0.5, 0.1, 0.6, 0.3, 0.8, 0.4, 0.2, 0.9, 0.5, 1.4],
    [1.3, 1.8, 2.3, 1.9, 2.7, 2.2, 1.5, 1.0, 0.5, 0.3, 0.1],
    [0.6, 0.9, 0.4, 1.2, 0.8, 1.4, 0.6, 1.8, 1.0, 1.5, 0.8, 1.2],
    [0.8, 1.5, 0.5, 1.2, 2.6, 1.8, 2.4, 1.0, 0.3, 0.6, 0.1, 0.4, 0.0],
    [0.6, 0.3, 0.5, 0.1, 0.6, 0.2, 0.4, 0.0, 0.2, 0.5],
    [1.2, 1.6, 1.0, 0.4, 0.7, 0.1, 0.5, 0.9, 0.2, 0.8, 1.0],
]
la_spikes = [(8, 71.3, 0.6, 8.14)]
la_lgpos = [3.8, 11.5, 21.3, 29.9, 38.9, 47.3, 56.6, 65.6, 75.6, 86.0, 95.5]

TEXT = "#231F20"
SERIF = "Liberation Serif"


def make_panel(title, spans, vals, spikes, lgpos, ytop, ystep, thr, width, height,
               left, right, top, bottom, yend=None, colors=None):
    cols = list(LG_COLORS)
    if colors:
        for k, c in colors.items():
            cols[k] = c
    p = figure(width=width, height=height, x_range=Range1d(0, 100),
               y_range=Range1d(0, yend if yend else ytop),
               output_backend="svg", toolbar_location=None,
               min_border_left=left, min_border_right=right,
               min_border_top=top, min_border_bottom=bottom)
    p.title.text = title
    p.title.align = "center"
    p.title.text_font = SERIF
    p.title.text_font_style = "bold"
    p.title.text_font_size = "70px"
    p.title.text_color = TEXT
    p.title.standoff = 14
    p.outline_line_color = None
    p.xgrid.visible = False
    p.ygrid.visible = False
    p.background_fill_color = "white"

    for i, (s, e) in enumerate(spans):
        v = vals[i]
        xs = np.linspace(s, e, len(v))
        p.line(xs, v, line_color=cols[i], line_width=5.5, line_join="round")
    for (lg, pos, base, peak) in spikes:
        p.segment(x0=[pos], y0=[base], x1=[pos], y1=[peak], line_color=cols[lg],
                  line_width=5.5, line_cap="round")

    p.add_layout(Span(location=thr, dimension="width", line_color="#8F9297", line_width=4))

    ya = p.yaxis[0]
    ya.ticker = FixedTicker(ticks=list(range(0, ytop + 1, ystep)))
    ya.major_tick_line_color = None
    ya.minor_tick_line_color = None
    ya.major_tick_out = 0
    ya.major_label_standoff = 24
    ya.major_label_text_font = SERIF
    ya.major_label_text_font_style = "bold"
    ya.major_label_text_font_size = "34px"
    ya.major_label_text_color = TEXT
    ya.axis_line_color = "#111111"
    ya.axis_line_width = 2.5
    ya.axis_label = "LOD"
    ya.axis_label_text_font = SERIF
    ya.axis_label_text_font_style = "bold"
    ya.axis_label_text_font_size = "40px"
    ya.axis_label_text_color = TEXT
    ya.axis_label_standoff = 13

    xa = p.xaxis[0]
    xa.ticker = FixedTicker(ticks=lgpos)
    xa.major_label_overrides = {float(t): n for t, n in zip(lgpos, LG_NAMES)}
    xa.major_tick_line_color = None
    xa.minor_tick_line_color = None
    xa.major_tick_out = 0
    xa.major_label_standoff = 13
    xa.major_label_text_font = SERIF
    xa.major_label_text_font_size = "29px"
    xa.major_label_text_color = TEXT
    xa.axis_line_color = "#111111"
    xa.axis_line_width = 5
    return p


# page sized to fit a 4096 px viewport (minus the 8 px page margin)
H, H5 = 834, 744
W1, W2, W3 = 1348, 1348, 1384
TOP, BOT = 91, 147

p1 = make_panel("Stem length", sl_spans, sl_vals, sl_spikes, sl_lgpos, 6, 1, 3.0, W1, H, 119, 69, TOP, BOT)
p2 = make_panel("Branches per plant", bp_spans, bp_vals, bp_spikes, bp_lgpos, 8, 1, 3.0, W2, H, 131, 82, TOP, BOT)
p3 = make_panel("100-seed weight", sw_spans, sw_vals, sw_spikes, sw_lgpos, 20, 2, 3.0, W3, H, 168, 16, TOP, BOT)

p4 = make_panel("Pod twist", pt_spans, pt_vals, pt_spikes, pt_lgpos, 10, 1, 3.0, W1, H, 119, 17, TOP, BOT,
                colors={8: "#00A7E7"})
p5 = make_panel("Stem thickness", st_spans, st_vals, st_spikes, st_lgpos, 35, 5, 2.7, W2, H, 149, 38, TOP, BOT)
p6 = make_panel("Pod length", pl_spans, pl_vals, pl_spikes, pl_lgpos, 30, 5, 2.6, W3, H, 179, 8, TOP, BOT)

p7 = make_panel("Seeds per pods", sp_spans, sp_vals, sp_spikes, sp_lgpos, 60, 10, 2.95, W1, H, 125, 19, TOP, BOT,
                colors={3: "#F7E21B"})
p8 = make_panel("Seed length", sn_spans, sn_vals, sn_spikes, sn_lgpos, 20, 2, 2.9, W2, H, 148, 38, TOP, BOT)
p9 = make_panel("Seed width", sd_spans, sd_vals, sd_spikes, sd_lgpos, 25, 5, 2.8, W3, H, 182, 8, TOP, BOT)

p10 = make_panel("Seed water absorption", wa_spans, wa_vals, wa_spikes, wa_lgpos, 12, 2, 3.0, W1, H, 125, 26, TOP, BOT)
p11 = make_panel("Days of first flowering", ff_spans, ff_vals, ff_spikes, ff_lgpos, 14, 2, 3.0, W2, H, 145, 30, TOP, BOT)
p12 = make_panel("Days of frist pod maturity", pm_spans, pm_vals, pm_spikes, pm_lgpos, 6, 1, 3.0, W3, H, 171, 8, TOP, BOT)

p13 = make_panel("Leaf area", la_spans, la_vals, la_spikes, la_lgpos, 8, 1, 3.0, W2, H5, 147, 5, 113, 43, yend=8.4)

layout = column(
    row(p1, p2, p3),
    row(p4, p5, p6),
    row(p7, p8, p9),
    row(p10, p11, p12),
    row(Spacer(width=W1, height=H5), p13),
)

open("out.html", "w").write(file_html(layout, INLINE))
